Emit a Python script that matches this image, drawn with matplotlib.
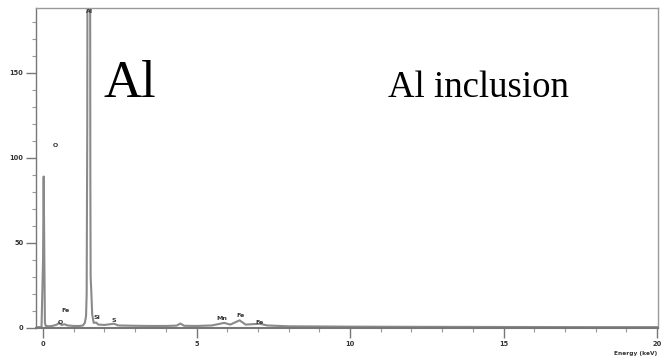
import matplotlib
matplotlib.use("Agg")
import matplotlib.pyplot as plt
from matplotlib.ticker import MultipleLocator

# Spectrum (energy in keV, counts)
energy_keV = [-0.23, -0.05, 0.0, 0.02, 0.04, 0.06, 0.09, 0.2, 0.3, 0.45, 0.52, 0.6,
              0.7, 0.8, 1.0, 1.2, 1.30, 1.36, 1.40, 1.42, 1.44, 1.45, 1.53, 1.54,
              1.55, 1.57, 1.60, 1.65, 1.73, 1.8, 2.0, 2.31, 2.45, 3.0, 3.5, 4.0,
              4.35, 4.47, 4.6, 5.0, 5.5, 5.9, 6.1, 6.4, 6.6, 7.06, 7.3, 8.0, 9.0,
              10.0, 12.0, 15.0, 18.0, 20.03]
counts = [0.5, 0.5, 40, 89, 45, 3, 1.2, 1.0, 1.2, 2.0, 3.0, 1.8,
          2.2, 1.5, 1.2, 1.2, 1.5, 3, 7, 20, 120, 260, 260, 90,
          30, 22, 8, 3, 3.2, 2.0, 1.8, 2.5, 1.5, 1.3, 1.2, 1.2,
          1.4, 2.6, 1.3, 1.2, 1.5, 3.0, 2.0, 4.5, 2.0, 2.5, 1.5, 1.0, 0.9,
          0.8, 0.7, 0.6, 0.5, 0.5]

# Peak labels
peak_labels = ["Al", "O", "Fe", "O", "Si", "S", "Mn", "Fe", "Fe"]
peak_x = [1.50, 0.39, 0.74, 0.55, 1.74, 2.31, 5.83, 6.43, 7.05]
peak_y = [186, 107, 10, 3.5, 6, 4.7, 5.3, 7.6, 3.5]

x_ticks = [0, 5, 10, 15, 20]
x_ticklabels = ["0", "5", "10", "15", "20"]
y_ticks = [0, 50, 100, 150]
y_ticklabels = ["0", "50", "100", "150"]

fig = plt.figure(figsize=(6.67, 3.63), dpi=100)
ax = fig.add_axes([36 / 667, 1 - 328 / 363, (658 - 36) / 667, (328 - 8) / 363])

ax.plot(energy_keV, counts, color="#8a8a8a", lw=1.5, solid_joinstyle="round")
ax.set_xlim(-0.23, 20.03)
ax.set_ylim(0, 188)

for s in ax.spines.values():
    s.set_color("#9a9a9a")
    s.set_linewidth(1.0)
ax.spines["left"].set_color("#777777")
ax.spines["bottom"].set_color("#777777")
ax.spines["bottom"].set_linewidth(1.5)

ax.set_xticks(x_ticks)
ax.set_xticklabels(x_ticklabels)
ax.set_yticks(y_ticks)
ax.set_yticklabels(y_ticklabels)
ax.xaxis.set_minor_locator(MultipleLocator(1))
ax.yaxis.set_minor_locator(MultipleLocator(10))
ax.tick_params(axis="both", which="major", direction="out", length=7, width=1,
               color="#777777", labelsize=4.8, labelcolor="#333333", pad=2)
ax.tick_params(axis="both", which="minor", direction="out", length=3, width=0.8,
               color="#999999")
for lab in ax.get_xticklabels() + ax.get_yticklabels():
    lab.set_fontweight("bold")

fig.text(657 / 667, 1 - 354 / 363, "Energy (keV)", ha="right", va="center",
         fontsize=4.2, fontweight="bold", color="#333333")

for lab, px, py in zip(peak_labels, peak_x, peak_y):
    ax.text(px, py, lab, ha="center", va="center", fontsize=4.5,
            fontweight="bold", color="#333333", clip_on=False)

fig.text(103 / 667, 1 - 97 / 363, "Al", ha="left", va="baseline",
         fontsize=38, family="Liberation Serif", color="black")
fig.text(388 / 667, 1 - 97 / 363, "Al inclusion", ha="left", va="baseline",
         fontsize=26.5, family="Liberation Serif", color="black")

fig.savefig("out.png", dpi=100)
